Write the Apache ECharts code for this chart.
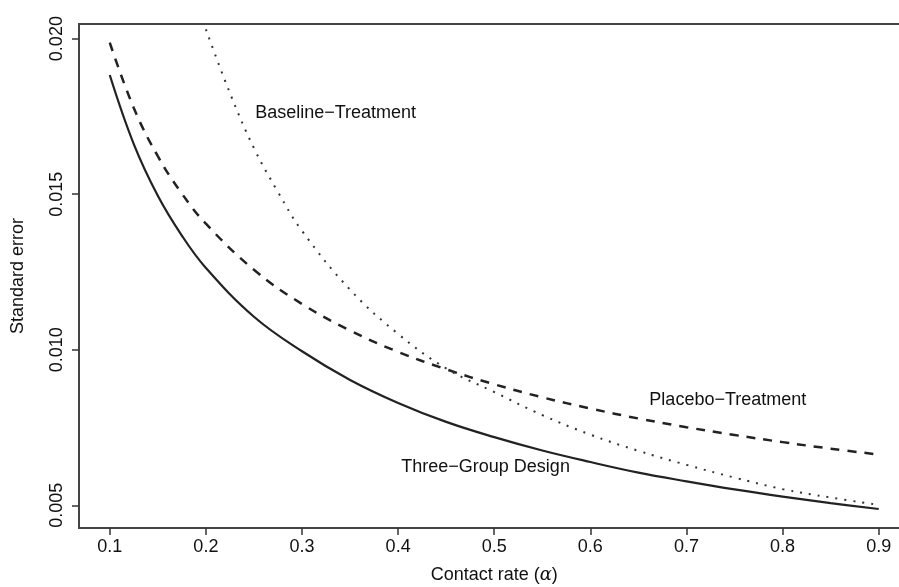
<!DOCTYPE html>
<html><head><meta charset="utf-8">
<script src="https://cdn.jsdelivr.net/npm/echarts@6/dist/echarts.min.js"></script>
<style>html,body{margin:0;padding:0;background:#fff}#c{width:899px;height:587px}</style>
</head><body><div id="c"></div>
<script>
const alpha = [0.1, 0.125, 0.15, 0.175, 0.2, 0.25, 0.3, 0.35, 0.4, 0.45, 0.5, 0.55, 0.6, 0.65, 0.7, 0.75, 0.8, 0.85, 0.9];
const threeGroup = [0.01883, 0.01661, 0.01495, 0.01367, 0.01263, 0.01106, 0.00995, 0.00903, 0.00829, 0.00768, 0.00719, 0.00676, 0.00639, 0.00605, 0.00577, 0.00551, 0.00528, 0.00507, 0.00488];
const placebo = [0.01987, 0.01777, 0.01622, 0.01502, 0.01405, 0.01257, 0.01147, 0.01062, 0.00993, 0.00937, 0.00889, 0.00847, 0.00811, 0.00779, 0.00751, 0.00726, 0.00703, 0.00682, 0.00663];
const baseAlpha = [0.2, 0.225, 0.25, 0.275, 0.3, 0.35, 0.4, 0.45, 0.5, 0.55, 0.6, 0.65, 0.7, 0.75, 0.8, 0.85, 0.9];
const baseline = [0.0203, 0.01825, 0.01648, 0.01507, 0.01382, 0.01193, 0.01051, 0.00940, 0.00864, 0.00790, 0.00727, 0.00675, 0.00630, 0.00589, 0.00552, 0.00525, 0.00501];
const xTicks = [0.1, 0.2, 0.3, 0.4, 0.5, 0.6, 0.7, 0.8, 0.9];
const yTicks = [0.005, 0.010, 0.015, 0.020];
const labelText = ['Baseline\u2212Treatment', 'Placebo\u2212Treatment', 'Three\u2212Group Design'];
const labelX = [0.335, 0.743, 0.491];
const labelY = [0.0176, 0.00838, 0.00624];

const pair = (xs, ys) => xs.map((x, i) => [x, ys[i]]);
const FONT = '"Liberation Sans", Arial, Helvetica, sans-serif';
const chart = echarts.init(document.getElementById('c'), null, {renderer: 'canvas'});
chart.setOption({
  animation: false,
  grid: {left: 79, top: 24, width: 830.5, height: 504, containLabel: false, outerBoundsMode: 'none',
    show: true, borderColor: '#444', borderWidth: 2, backgroundColor: 'transparent'},
  xAxis: {
    type: 'value', min: 0.068, max: 0.932,
    name: 'Contact rate ({a|\u03b1})', nameLocation: 'middle', nameGap: 38,
    nameTextStyle: {fontFamily: FONT, fontSize: 18, color: '#111',
      rich: {a: {fontFamily: '"DejaVu Serif", serif', fontStyle: 'italic', fontSize: 18, color: '#111'}}},
    axisLine: {show: false}, splitLine: {show: false},
    axisTick: {show: true, length: 7, lineStyle: {color: '#333', width: 1.5}, customValues: xTicks},
    axisLabel: {customValues: xTicks, formatter: v => v.toFixed(1), fontFamily: FONT, fontSize: 18, color: '#111', margin: 10}
  },
  yAxis: {
    type: 'value', min: 0.00427, max: 0.02047,
    name: 'Standard error', nameLocation: 'middle', nameRotate: 90, nameGap: 52,
    nameTextStyle: {fontFamily: FONT, fontSize: 18, color: '#111'},
    axisLine: {show: false}, splitLine: {show: false},
    axisTick: {show: true, length: 7, lineStyle: {color: '#333', width: 1.5}, customValues: yTicks},
    axisLabel: {customValues: yTicks, rotate: 90, formatter: v => v.toFixed(3), fontFamily: FONT, fontSize: 18, color: '#111', margin: 13}
  },
  series: [
    {type: 'line', name: 'Three-Group Design', data: pair(alpha, threeGroup), smooth: 0.4, symbol: 'none', clip: true,
      lineStyle: {color: '#222', width: 2.2, type: 'solid'}},
    {type: 'line', name: 'Placebo-Treatment', data: pair(alpha, placebo), smooth: 0.4, symbol: 'none', clip: true,
      lineStyle: {color: '#222', width: 2.5, type: [9, 8]}},
    {type: 'line', name: 'Baseline-Treatment', data: pair(baseAlpha, baseline), smooth: 0.4, symbol: 'none', clip: true,
      lineStyle: {color: '#333', width: 2, type: [2, 7], cap: 'butt'}},
    {type: 'scatter', data: labelX.map((x, i) => [x, labelY[i], labelText[i]]), symbolSize: 1, silent: true,
      itemStyle: {color: 'rgba(0,0,0,0)', opacity: 1},
      label: {show: true, position: 'inside', formatter: p => p.data[2], fontFamily: FONT, fontSize: 18, color: '#111', opacity: 1}}
  ]
});
</script></body></html>
